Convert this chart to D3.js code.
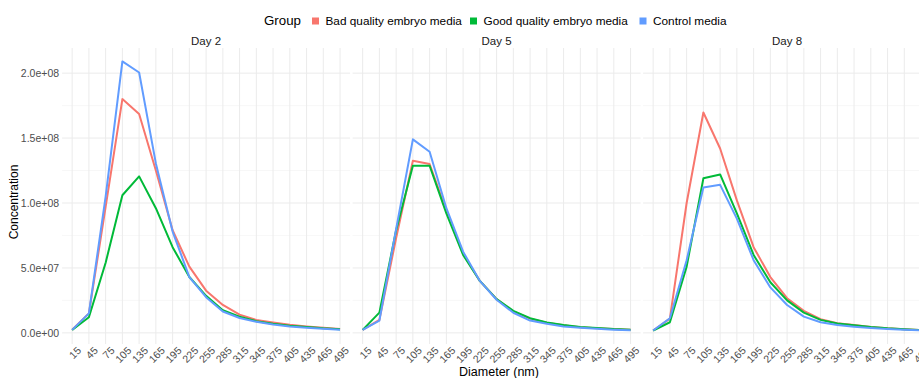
<!DOCTYPE html>
<html>
<head>
<meta charset="utf-8">
<script src="https://cdn.jsdelivr.net/npm/d3@7"></script>
<style>
  body { margin: 0; background: #fff; }
  svg { display: block; font-family: "Liberation Sans", Arial, sans-serif; }
</style>
</head>
<body>
<svg id="chart" width="919" height="378"></svg>
<script>
// Particle size distribution by culture medium group, one panel per day
const diameters = [15, 45, 75, 105, 135, 165, 195, 225, 255, 285, 315, 345, 375, 405, 435, 465, 495];
const days = ["Day 2", "Day 5", "Day 8"];
const groups = ["Bad quality embryo media", "Good quality embryo media", "Control media"];
const groupColors = ["#F8766D", "#00BA38", "#619CFF"];
const yTicks = [0, 5e7, 1e8, 1.5e8, 2e8];
const yTickLabels = ["0.0e+00", "5.0e+07", "1.0e+08", "1.5e+08", "2.0e+08"];

const day2Bad     = [2.4e6, 1.5e7, 9.7e7, 1.80e8, 1.685e8, 1.25e8, 7.9e7, 5.1e7, 3.25e7, 2.15e7, 1.4e7, 1.0e7, 8.0e6, 6.2e6, 5.0e6, 4.0e6, 3.0e6];
const day2Good    = [2.2e6, 1.2e7, 5.4e7, 1.06e8, 1.205e8, 9.6e7, 6.6e7, 4.3e7, 2.85e7, 1.75e7, 1.25e7, 9.0e6, 7.0e6, 5.5e6, 4.5e6, 3.5e6, 2.8e6];
const day2Control = [2.3e6, 1.5e7, 1.05e8, 2.09e8, 2.005e8, 1.305e8, 7.8e7, 4.3e7, 2.75e7, 1.65e7, 1.15e7, 8.5e6, 6.5e6, 5.0e6, 4.0e6, 3.2e6, 2.5e6];

const day5Bad     = [2.3e6, 1.0e7, 7.3e7, 1.325e8, 1.30e8, 9.4e7, 6.1e7, 4.0e7, 2.6e7, 1.65e7, 1.1e7, 7.8e6, 5.8e6, 4.4e6, 3.6e6, 2.9e6, 2.4e6];
const day5Good    = [2.3e6, 1.56e7, 7.9e7, 1.287e8, 1.287e8, 9.2e7, 6.0e7, 4.0e7, 2.6e7, 1.7e7, 1.13e7, 8.0e6, 6.0e6, 4.5e6, 3.8e6, 3.0e6, 2.5e6];
const day5Control = [2.3e6, 9.5e6, 8.0e7, 1.49e8, 1.395e8, 9.6e7, 6.25e7, 4.0e7, 2.55e7, 1.55e7, 9.5e6, 7.0e6, 5.0e6, 4.0e6, 3.2e6, 2.5e6, 2.0e6];

const day8Bad     = [1.8e6, 1.1e7, 1.0e8, 1.697e8, 1.42e8, 1.02e8, 6.6e7, 4.3e7, 2.67e7, 1.7e7, 1.05e7, 7.5e6, 6.0e6, 4.5e6, 3.5e6, 2.8e6, 2.2e6];
const day8Good    = [1.8e6, 8.2e6, 5.1e7, 1.19e8, 1.22e8, 9.2e7, 6.0e7, 3.9e7, 2.5e7, 1.56e7, 1.0e7, 7.2e6, 5.8e6, 4.5e6, 3.5e6, 2.8e6, 2.2e6];
const day8Control = [1.8e6, 1.13e7, 5.6e7, 1.12e8, 1.14e8, 8.8e7, 5.6e7, 3.5e7, 2.15e7, 1.25e7, 8.2e6, 6.0e6, 4.8e6, 3.8e6, 3.0e6, 2.4e6, 2.0e6];

const panelSeries = [
  [day2Bad, day2Good, day2Control],
  [day5Bad, day5Good, day5Control],
  [day8Bad, day8Good, day8Control]
];

const svg = d3.select("#chart");

// Panel geometry
const panelLeft0 = 62.1, panelWidth = 288, panelPitch = 290.5;
const panelTop = 48, panelBottom = 344;

// Shared y scale: ggplot-style 5% expansion around the data range
const allVals = panelSeries.flat(2);
const yMin = d3.min(allVals), yMax = d3.max(allVals);
const pad = (yMax - yMin) * 0.05;
const y = d3.scaleLinear().domain([yMin - pad, yMax + pad]).range([panelBottom, panelTop]);

const minorTicks = [2.5e7, 7.5e7, 1.25e8, 1.75e8];

days.forEach((day, i) => {
  const left = panelLeft0 + i * panelPitch;
  const x = d3.scalePoint().domain(diameters).range([left, left + panelWidth]).padding(0.6);
  const g = svg.append("g");

  // grid
  g.selectAll(".ymin").data(minorTicks).join("line")
    .attr("x1", left).attr("x2", left + panelWidth)
    .attr("y1", d => y(d)).attr("y2", d => y(d))
    .attr("stroke", "#f2f2f2").attr("stroke-width", 0.6);
  g.selectAll(".ymaj").data(yTicks).join("line")
    .attr("x1", left).attr("x2", left + panelWidth)
    .attr("y1", d => y(d)).attr("y2", d => y(d))
    .attr("stroke", "#ebebeb").attr("stroke-width", 1);
  g.selectAll(".xmaj").data(diameters).join("line")
    .attr("x1", d => x(d)).attr("x2", d => x(d))
    .attr("y1", panelTop).attr("y2", panelBottom)
    .attr("stroke", "#ebebeb").attr("stroke-width", 1);

  // strip title
  svg.append("text")
    .attr("x", left + panelWidth / 2).attr("y", 45)
    .attr("text-anchor", "middle")
    .attr("font-size", 11.5).attr("fill", "#1a1a1a")
    .text(day);

  // x axis (labels only)
  const xAxis = d3.axisBottom(x).tickSize(0).tickPadding(0);
  const ax = svg.append("g").attr("transform", `translate(0,${panelBottom})`).call(xAxis);
  ax.select(".domain").remove();
  ax.selectAll("text")
    .attr("font-size", 10.5).attr("fill", "#4d4d4d")
    .attr("font-family", "Liberation Sans, Arial, sans-serif")
    .attr("text-anchor", "end")
    .attr("dy", "0.7em")
    .attr("transform", "translate(4,2) rotate(-45)");

  // lines
  const line = d3.line().x((d, k) => x(diameters[k])).y(d => y(d));
  panelSeries[i].forEach((vals, j) => {
    g.append("path")
      .attr("d", line(vals))
      .attr("fill", "none")
      .attr("stroke", groupColors[j])
      .attr("stroke-width", 2)
      .attr("stroke-linejoin", "round");
  });
});

// y axis labels
const yAxis = d3.axisLeft(y).tickValues(yTicks).tickFormat((d, k) => yTickLabels[k]).tickSize(0).tickPadding(0);
const ay = svg.append("g").attr("transform", `translate(${panelLeft0 - 3},0)`).call(yAxis);
ay.select(".domain").remove();
ay.selectAll("text").attr("font-size", 10.5).attr("fill", "#4d4d4d")
  .attr("font-family", "Liberation Sans, Arial, sans-serif");

// axis titles
svg.append("text")
  .attr("transform", `translate(18,${(panelTop + panelBottom) / 2 + 6}) rotate(-90)`)
  .attr("text-anchor", "middle").attr("font-size", 12).attr("fill", "#000")
  .text("Concentration");
svg.append("text")
  .attr("x", 499).attr("y", 376)
  .attr("text-anchor", "middle").attr("font-size", 12.5).attr("fill", "#000")
  .text("Diameter (nm)");

// legend
const legend = svg.append("g");
legend.append("text").attr("x", 264).attr("y", 25).attr("font-size", 13.3).attr("fill", "#000").text("Group");
const legendX = [312, 470, 639.5];
groups.forEach((name, j) => {
  legend.append("rect").attr("x", legendX[j]).attr("y", 17.5).attr("width", 7).attr("height", 7).attr("fill", groupColors[j]);
  legend.append("text").attr("x", legendX[j] + 13.5).attr("y", 25)
    .attr("font-size", 11.8).attr("fill", "#000").text(name);
});
</script>
</body>
</html>
